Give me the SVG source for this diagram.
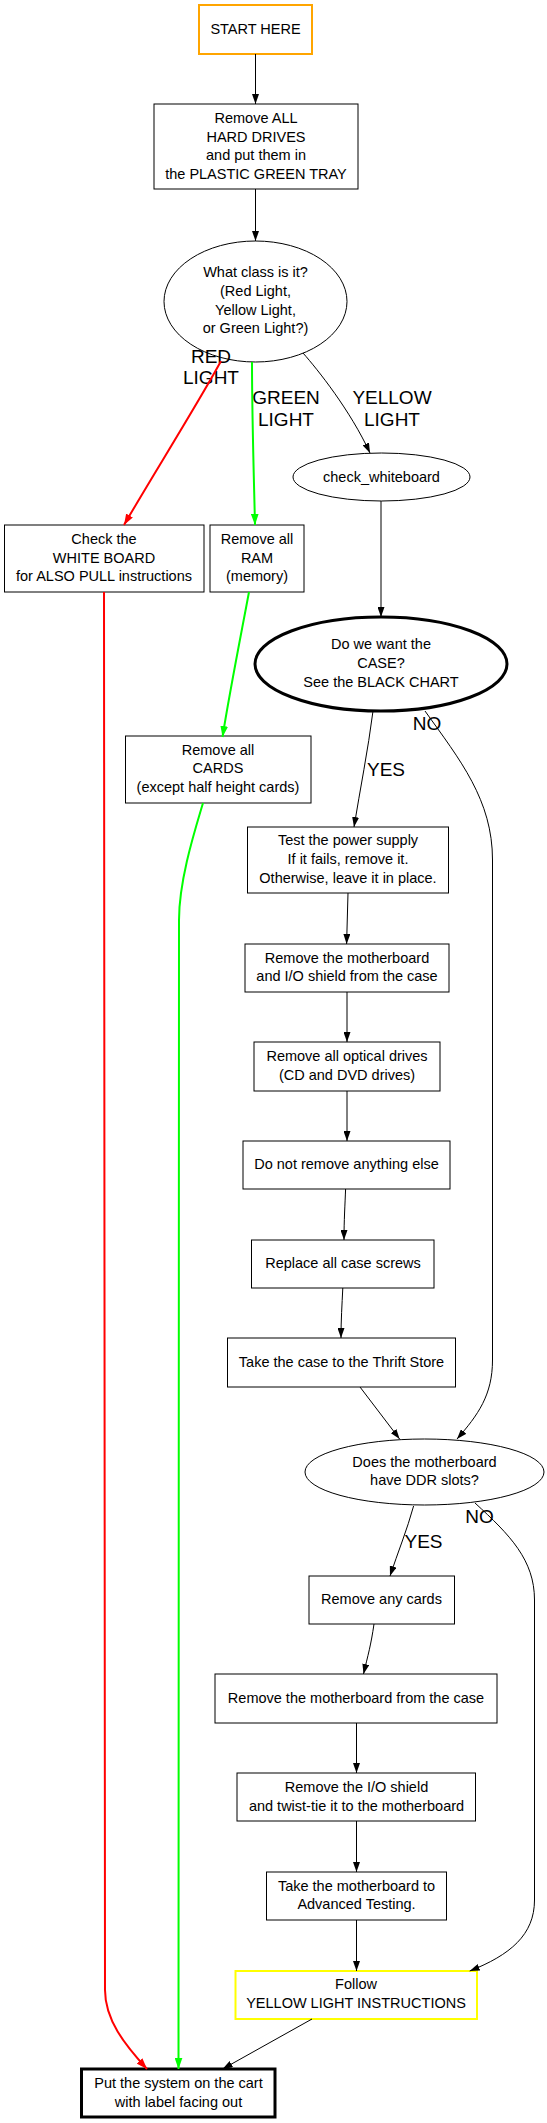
<svg xmlns="http://www.w3.org/2000/svg" width="547" height="2123" viewBox="0 0 547 2123">
<style>
text{font-family:"Liberation Sans",Arial,sans-serif;font-size:14.5px;text-anchor:middle;fill:#000}
.lbl{font-size:19px}
.box{fill:#fff;stroke:#000;stroke-width:1}
.e{fill:none;stroke:#000;stroke-width:1}
.r{fill:none;stroke:#f00;stroke-width:2}
.g{fill:none;stroke:#0f0;stroke-width:2}
</style>
<defs>
<marker id="ak" viewBox="0 0 10 7" refX="10" refY="3.5" markerWidth="10" markerHeight="7" markerUnits="userSpaceOnUse" orient="auto"><path d="M0,0L10,3.5L0,7z" fill="#000"/></marker>
<marker id="ar" viewBox="0 0 10 7" refX="10" refY="3.5" markerWidth="11" markerHeight="8" markerUnits="userSpaceOnUse" orient="auto"><path d="M0,0L10,3.5L0,7z" fill="#f00"/></marker>
<marker id="ag" viewBox="0 0 10 7" refX="10" refY="3.5" markerWidth="11" markerHeight="8" markerUnits="userSpaceOnUse" orient="auto"><path d="M0,0L10,3.5L0,7z" fill="#0f0"/></marker>
</defs>
<rect width="547" height="2123" fill="#fff"/>
<g id="start"><rect class="box" x="199" y="5" width="113" height="49" style="stroke:#ffa500;stroke-width:2"/><text x="255.5" y="34">START HERE</text></g>
<g id="harddrives"><rect class="box" x="154" y="104" width="204" height="85"/><text x="256" y="123">Remove ALL</text><text x="256" y="141.5">HARD DRIVES</text><text x="256" y="160">and put them in</text><text x="256" y="179">the PLASTIC GREEN TRAY</text></g>
<g id="class"><ellipse class="box" cx="255.5" cy="301.5" rx="91.5" ry="60.5"/><text x="255.5" y="277">What class is it?</text><text x="255.5" y="296">(Red Light,</text><text x="255.5" y="315">Yellow Light,</text><text x="255.5" y="333">or Green Light?)</text></g>
<g id="check_whiteboard"><ellipse class="box" cx="381.5" cy="477" rx="88.5" ry="24"/><text x="381.5" y="482">check_whiteboard</text></g>
<g id="whiteboard"><rect class="box" x="4.5" y="525" width="199.5" height="67"/><text x="104" y="544">Check the</text><text x="104" y="563">WHITE BOARD</text><text x="104" y="581">for ALSO PULL instructions</text></g>
<g id="ram"><rect class="box" x="210" y="525" width="94" height="67"/><text x="257" y="544">Remove all</text><text x="257" y="563">RAM</text><text x="257" y="581">(memory)</text></g>
<g id="case"><ellipse class="box" cx="381" cy="664" rx="126" ry="47" style="stroke-width:3"/><text x="381" y="649">Do we want the</text><text x="381" y="668">CASE?</text><text x="381" y="687">See the BLACK CHART</text></g>
<g id="cards"><rect class="box" x="125.5" y="736" width="185.5" height="67"/><text x="218" y="755">Remove all</text><text x="218" y="773">CARDS</text><text x="218" y="792">(except half height cards)</text></g>
<g id="power"><rect class="box" x="247.5" y="827" width="201" height="66"/><text x="348" y="845">Test the power supply</text><text x="348" y="864">If it fails, remove it.</text><text x="348" y="883">Otherwise, leave it in place.</text></g>
<g id="mbshield"><rect class="box" x="245" y="944" width="204" height="48"/><text x="347" y="963">Remove the motherboard</text><text x="347" y="981">and I/O shield from the case</text></g>
<g id="optical"><rect class="box" x="254" y="1042" width="186" height="49"/><text x="347" y="1061">Remove all optical drives</text><text x="347" y="1080">(CD and DVD drives)</text></g>
<g id="nothing"><rect class="box" x="243" y="1141" width="207" height="48"/><text x="346.5" y="1169">Do not remove anything else</text></g>
<g id="screws"><rect class="box" x="251.5" y="1240" width="182.5" height="48"/><text x="343" y="1268">Replace all case screws</text></g>
<g id="thrift"><rect class="box" x="227.5" y="1338" width="228" height="49"/><text x="341.5" y="1367">Take the case to the Thrift Store</text></g>
<g id="ddr"><ellipse class="box" cx="424.5" cy="1472" rx="119.5" ry="33"/><text x="424.5" y="1467">Does the motherboard</text><text x="424.5" y="1485">have DDR slots?</text></g>
<g id="anycards"><rect class="box" x="309" y="1576" width="145.5" height="48"/><text x="381.5" y="1604">Remove any cards</text></g>
<g id="mbcase"><rect class="box" x="215" y="1674" width="282" height="49"/><text x="356" y="1703">Remove the motherboard from the case</text></g>
<g id="ioshield"><rect class="box" x="237" y="1773" width="238.5" height="48"/><text x="356.5" y="1792">Remove the I/O shield</text><text x="356.5" y="1811">and twist-tie it to the motherboard</text></g>
<g id="advanced"><rect class="box" x="266.5" y="1872" width="180" height="48"/><text x="356.5" y="1891">Take the motherboard to</text><text x="356.5" y="1909">Advanced Testing.</text></g>
<g id="follow"><rect class="box" x="235.5" y="1971" width="241.5" height="48" style="stroke:#ff0;stroke-width:2"/><text x="356" y="1989">Follow</text><text x="356" y="2008">YELLOW LIGHT INSTRUCTIONS</text></g>
<g id="cart"><rect class="box" x="81.5" y="2069" width="193.5" height="48" style="stroke-width:3"/><text x="178.5" y="2088">Put the system on the cart</text><text x="178.5" y="2107">with label facing out</text></g>
<g id="connectors">
<text class="lbl" x="211" y="363">RED</text>
<text class="lbl" x="211" y="384">LIGHT</text>
<text class="lbl" x="286" y="404">GREEN</text>
<text class="lbl" x="286" y="426">LIGHT</text>
<text class="lbl" x="392" y="404">YELLOW</text>
<text class="lbl" x="392" y="426">LIGHT</text>
<text class="lbl" x="386" y="776">YES</text>
<text class="lbl" x="427" y="730">NO</text>
<text class="lbl" x="423.5" y="1548">YES</text>
<text class="lbl" x="479.5" y="1523">NO</text>
<path class="e" d="M255.5,54L255.5,104" marker-end="url(#ak)"/>
<path class="e" d="M255.5,189L255.5,241" marker-end="url(#ak)"/>
<path class="r" d="M221,361C200,400 150,480 124,525" marker-end="url(#ar)"/>
<path class="g" d="M252,362C252,420 254,480 255,525" marker-end="url(#ag)"/>
<path class="e" d="M303,353C318,370 350,410 370,453" marker-end="url(#ak)"/>
<path class="e" d="M381,501L381,617" marker-end="url(#ak)"/>
<path class="g" d="M249,592C240,640 230,690 222.5,737" marker-end="url(#ag)"/>
<path class="e" d="M373,711C368,750 360,790 354,827" marker-end="url(#ak)"/>
<path class="e" d="M425,711C460,760 492.5,800 492.5,860L492.5,1360C492.5,1395 478,1415 457,1439" marker-end="url(#ak)"/>
<path class="e" d="M348,893L346.6,944" marker-end="url(#ak)"/>
<path class="e" d="M347,992L347,1042" marker-end="url(#ak)"/>
<path class="e" d="M347,1091L347,1141" marker-end="url(#ak)"/>
<path class="e" d="M345.6,1189C345,1205 344,1220 344,1240" marker-end="url(#ak)"/>
<path class="e" d="M342.8,1288C342,1305 341,1320 341,1338" marker-end="url(#ak)"/>
<path class="e" d="M360,1387L399.6,1439" marker-end="url(#ak)"/>
<path class="e" d="M413.6,1506C407,1530 398,1552 390,1576" marker-end="url(#ak)"/>
<path class="e" d="M475,1503C510,1535 534.5,1560 534.5,1600L534.5,1900C534.5,1935 510,1955 469.7,1971" marker-end="url(#ak)"/>
<path class="e" d="M374,1624C371,1645 368,1655 363.5,1674" marker-end="url(#ak)"/>
<path class="e" d="M356.5,1723L356.5,1773" marker-end="url(#ak)"/>
<path class="e" d="M356.5,1821L356.5,1872" marker-end="url(#ak)"/>
<path class="e" d="M356.5,1920L356.5,1971" marker-end="url(#ak)"/>
<path class="e" d="M312,2019L222.6,2069" marker-end="url(#ak)"/>
<path class="r" d="M104,592L105,1990C105,2020 125,2045 147,2069" marker-end="url(#ar)"/>
<path class="g" d="M203,803C195,830 179,880 179,920L178.5,2069" marker-end="url(#ag)"/>
</g>
</svg>
